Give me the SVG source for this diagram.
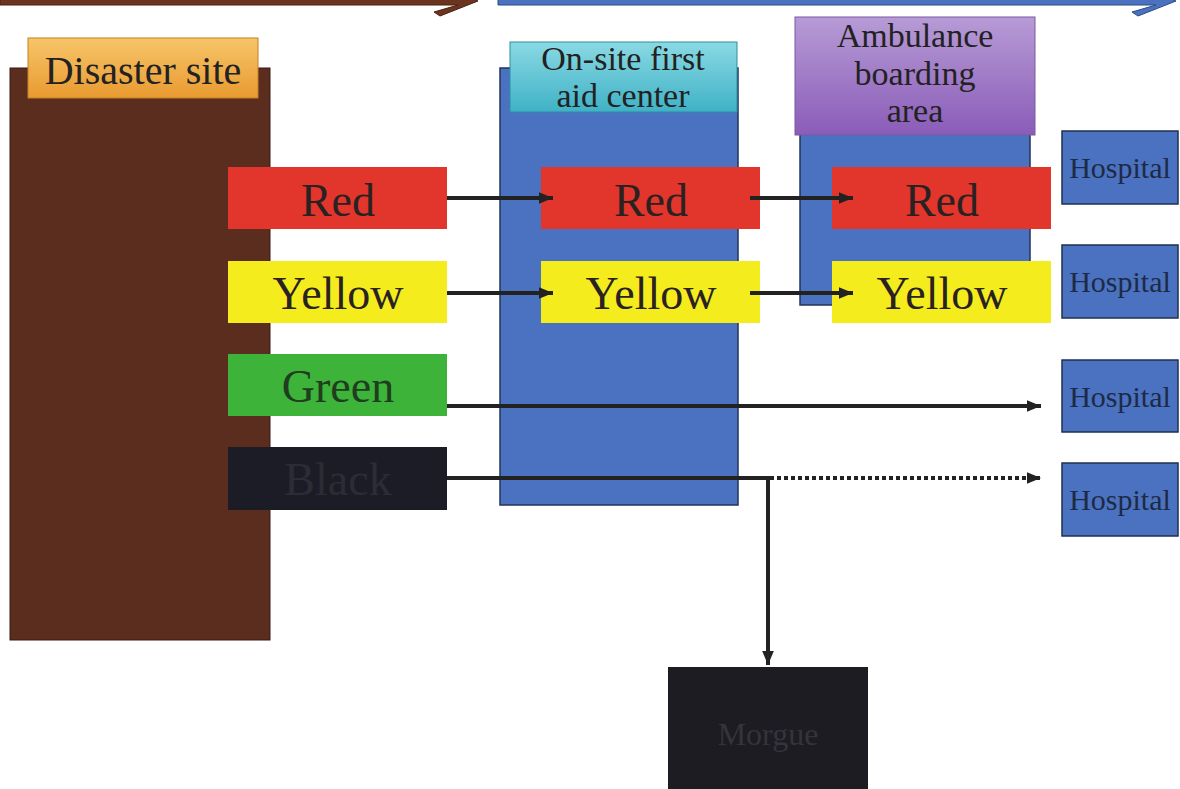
<svg xmlns="http://www.w3.org/2000/svg" width="1180" height="789" viewBox="0 0 1180 789">
<defs>
<linearGradient id="gOrange" x1="0" y1="0" x2="0" y2="1"><stop offset="0" stop-color="#f7c56a"/><stop offset="1" stop-color="#e99a30"/></linearGradient>
<linearGradient id="gCyan" x1="0" y1="0" x2="0" y2="1"><stop offset="0" stop-color="#8ad9e4"/><stop offset="1" stop-color="#3fb2c6"/></linearGradient>
<linearGradient id="gPurple" x1="0" y1="0" x2="0" y2="1"><stop offset="0" stop-color="#b79bd6"/><stop offset="1" stop-color="#8a5cb8"/></linearGradient>
<marker id="ah2" viewBox="0 0 12 10" refX="12" refY="5" markerWidth="14" markerHeight="13" orient="auto" markerUnits="userSpaceOnUse">
<path d="M0,0 L12,5 L0,10 z" fill="#222"/>
</marker>
</defs>
<style>
.t{font-family:"Liberation Serif","Times New Roman",serif;text-anchor:middle}
.hosp{fill:#4a72c0;stroke:#1e3050;stroke-width:1.5}
.htxt{font-size:30px;fill:#1e2a45}
.lab{font-size:46px;fill:#2a2222}
.hdr{font-size:34px;fill:#222}
.conn{stroke:#222;stroke-width:4;fill:none}
</style>
<rect width="1180" height="789" fill="#ffffff"/>

<g id="top-arrows">
<path d="M0,-6 L462,-6 L478,1 L440,16 L434,12 L458,5 L0,5 z" fill="#6b3420" stroke="#4a2012" stroke-width="1"/>
<path d="M498,-6 L1160,-6 L1176,1 L1138,16 L1132,12 L1156,5 L498,5 z" fill="#4a72c0" stroke="#2a4a80" stroke-width="1"/>
</g>

<g id="disaster-site">
<rect x="10" y="68" width="260" height="572" fill="#5b2d1f" stroke="#3a1a10" stroke-width="1"/>
<rect x="28" y="38" width="230" height="60" fill="url(#gOrange)" stroke="#c58020" stroke-width="1"/>
<text class="t" x="143" y="84" font-size="40" fill="#222">Disaster site</text>
</g>

<g id="first-aid-center">
<rect x="500" y="68" width="238" height="437" fill="#4a72c0" stroke="#22345a" stroke-width="1.5"/>
<rect x="510" y="42" width="227" height="70" fill="url(#gCyan)" stroke="#2a8fa0" stroke-width="1"/>
<text class="t hdr" x="623" y="70">On-site first</text>
<text class="t hdr" x="623" y="107">aid center</text>
</g>

<g id="ambulance-area">
<rect x="800" y="130" width="230" height="175" fill="#4a72c0" stroke="#22345a" stroke-width="1.5"/>
<rect x="795" y="17" width="240" height="118" fill="url(#gPurple)" stroke="#7a58a0" stroke-width="1"/>
<text class="t hdr" x="915" y="47">Ambulance</text>
<text class="t hdr" x="915" y="85">boarding</text>
<text class="t hdr" x="915" y="122">area</text>
</g>

<g id="hospital-1"><rect class="hosp" x="1062" y="131" width="116" height="73"/><text class="t htxt" x="1120" y="178">Hospital</text></g>
<g id="hospital-2"><rect class="hosp" x="1062" y="245" width="116" height="73"/><text class="t htxt" x="1120" y="292">Hospital</text></g>
<g id="hospital-3"><rect class="hosp" x="1062" y="360" width="116" height="72"/><text class="t htxt" x="1120" y="407">Hospital</text></g>
<g id="hospital-4"><rect class="hosp" x="1062" y="463" width="116" height="73"/><text class="t htxt" x="1120" y="510">Hospital</text></g>

<g id="red-1"><rect x="228" y="167" width="219" height="62" fill="#e2352b"/><text class="t lab" x="338" y="216">Red</text></g>
<g id="red-2"><rect x="541" y="167" width="219" height="62" fill="#e2352b"/><text class="t lab" x="651" y="216">Red</text></g>
<g id="red-3"><rect x="832" y="167" width="219" height="62" fill="#e2352b"/><text class="t lab" x="942" y="216">Red</text></g>

<g id="yellow-1"><rect x="228" y="261" width="219" height="62" fill="#f4ec1c"/><text class="t lab" x="338" y="309">Yellow</text></g>
<g id="yellow-2"><rect x="541" y="261" width="219" height="62" fill="#f4ec1c"/><text class="t lab" x="651" y="309">Yellow</text></g>
<g id="yellow-3"><rect x="832" y="261" width="219" height="62" fill="#f4ec1c"/><text class="t lab" x="942" y="309">Yellow</text></g>

<g id="green"><rect x="228" y="354" width="219" height="62" fill="#3db33a"/><text class="t lab" x="338" y="402" style="fill:#1f3d1f">Green</text></g>
<g id="black"><rect x="228" y="447" width="219" height="63" fill="#1c1c26"/><text class="t lab" x="338" y="495" style="fill:#2c2c36">Black</text></g>

<g id="morgue"><rect x="668" y="667" width="200" height="125" fill="#1c1c22"/><text class="t" x="768" y="745" font-size="32" fill="#34343a">Morgue</text></g>

<g id="connectors">
<line class="conn" x1="447" y1="198" x2="553" y2="198" marker-end="url(#ah2)"/>
<line class="conn" x1="750" y1="198" x2="853" y2="198" marker-end="url(#ah2)"/>
<line class="conn" x1="447" y1="293" x2="553" y2="293" marker-end="url(#ah2)"/>
<line class="conn" x1="750" y1="293" x2="853" y2="293" marker-end="url(#ah2)"/>
<line class="conn" x1="447" y1="406" x2="1041" y2="406" marker-end="url(#ah2)"/>
<line class="conn" x1="447" y1="478" x2="770" y2="478"/>
<line class="conn" x1="770" y1="478" x2="1041" y2="478" stroke-dasharray="4,3" marker-end="url(#ah2)"/>
<line class="conn" x1="768" y1="476" x2="768" y2="665" marker-end="url(#ah2)"/>
</g>
</svg>
